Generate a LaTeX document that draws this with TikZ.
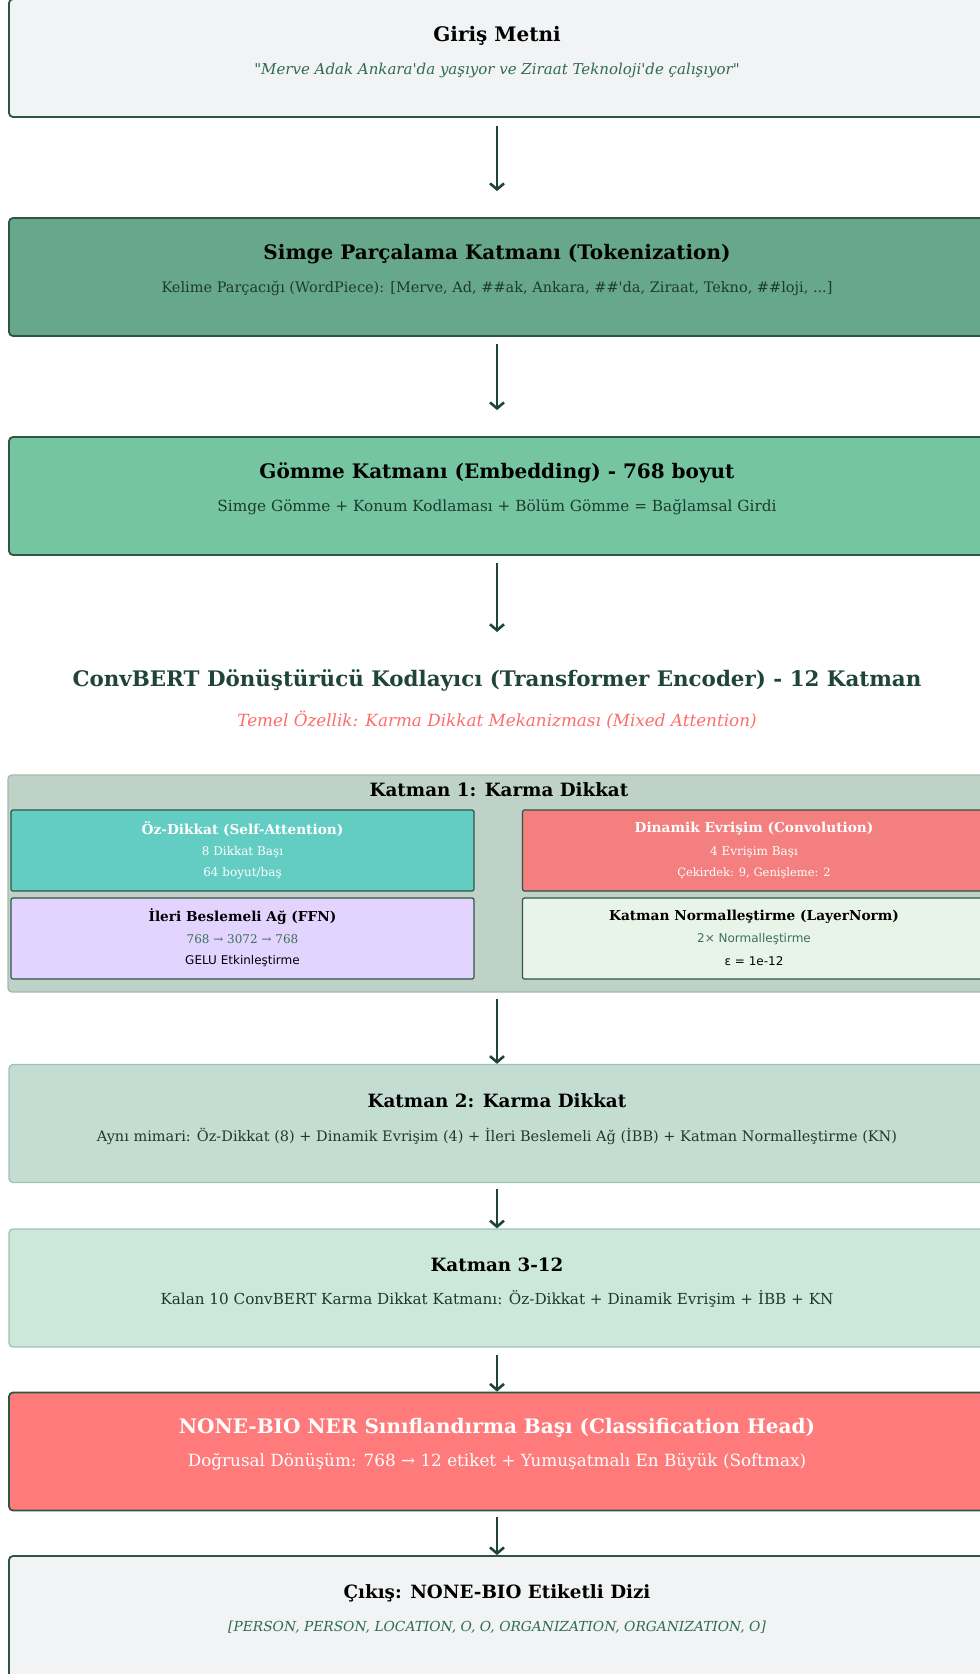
\documentclass[tikz,border=0pt]{standalone}
\usepackage{fontspec}
\setmainfont{DejaVu Serif}[Ligatures=TeXOff]
\newfontfamily\dsans{DejaVu Sans}
\usetikzlibrary{arrows.meta}

\definecolor{edge}{HTML}{2E5443}
\definecolor{arrowc}{HTML}{1E4535}
\definecolor{inbg}{HTML}{F1F3F4}
\definecolor{tokbg}{HTML}{66A889}
\definecolor{embbg}{HTML}{75C6A0}
\definecolor{kbg}{HTML}{BED2C8}
\definecolor{kedge}{HTML}{A3B8AD}
\definecolor{sabg}{HTML}{63CDC4}
\definecolor{dcbg}{HTML}{F47F7F}
\definecolor{ffnbg}{HTML}{E3D4FF}
\definecolor{lnbg}{HTML}{E9F4E9}
\definecolor{ktwobg}{HTML}{C4DDD3}
\definecolor{kthreebg}{HTML}{CBE8DA}
\definecolor{lightedge}{HTML}{A2C0B2}
\definecolor{headbg}{HTML}{FF7A7A}
\definecolor{subgreen}{HTML}{2E6B4F}
\definecolor{accent}{HTML}{FF6B6B}
\definecolor{dtext}{HTML}{1E3A30}
\definecolor{midgreen}{HTML}{3D6F5C}

\tikzset{
  layer/.style={rectangle, rounded corners=4pt, draw=edge, line width=1.8pt,
    minimum width=976pt, minimum height=118pt, inner sep=0pt},
  softlayer/.style={layer, draw=lightedge, line width=1.3pt},
  cell/.style={rectangle, rounded corners=2pt, draw=edge, line width=1.2pt,
    minimum width=463pt, minimum height=81pt, inner sep=0pt},
  ttl/.style={font=\fontsize{20}{23}\selectfont\bfseries, text=black, inner sep=0pt},
  smallttl/.style={ttl, font=\fontsize{18.3}{21}\selectfont\bfseries},
  sub/.style={font=\fontsize{15}{18}\selectfont, text=dtext, inner sep=0pt},
  celltitle/.style={font=\fontsize{13.7}{16}\selectfont\bfseries, inner sep=0pt},
  cellline/.style={font=\fontsize{12}{14}\selectfont, inner sep=0pt},
  sansline/.style={font=\fontsize{12}{14}\selectfont\dsans, inner sep=0pt},
  arr/.style={draw=arrowc, line width=2.6pt, -{Straight Barb[length=6pt,width=14pt]}}
}

\begin{document}
\begin{tikzpicture}[x=1pt,y=-1pt]
\useasboundingbox (0,0) rectangle (980,1674);
\clip (0,0) rectangle (980,1674);

% input text
\node[layer, fill=inbg] (inp) at (497,58) {};
\node[ttl] (inpT) at (497,36) {Giriş Metni};
\node[sub, text=subgreen, font=\fontsize{15}{18}\selectfont\itshape] (inpS) at (497,70)
  {"Merve Adak Ankara'da yaşıyor ve Ziraat Teknoloji'de çalışıyor"};

% tokenization
\node[layer, fill=tokbg] (tok) at (497,277) {};
\node[ttl] (tokT) at (497,254) {Simge Parçalama Katmanı (Tokenization)};
\node[sub, font=\fontsize{14.5}{17}\selectfont] (tokS) at (497,288)
  {Kelime Parçacığı (WordPiece): [Merve, Ad, \#\#ak, Ankara, \#\#'da, Ziraat, Tekno, \#\#loji, ...]};

% embedding
\node[layer, fill=embbg] (emb) at (497,496) {};
\node[ttl] (embT) at (497,473) {Gömme Katmanı (Embedding) - 768 boyut};
\node[sub, font=\fontsize{15.3}{18}\selectfont] (embS) at (497,507)
  {Simge Gömme + Konum Kodlaması + Bölüm Gömme = Bağlamsal Girdi};

% encoder heading
\node[ttl, text=arrowc, font=\fontsize{21.4}{25}\selectfont\bfseries] (enc) at (497,680)
  {ConvBERT Dönüştürücü Kodlayıcı (Transformer Encoder) - 12 Katman};
\node[sub, text=accent, font=\fontsize{16.8}{20}\selectfont\itshape] (encS) at (497,720)
  {Temel Özellik: Karma Dikkat Mekanizması (Mixed Attention)};

% layer 1 with its four parts
\node[rectangle, rounded corners=4pt, draw=kedge, line width=1.3pt, fill=kbg,
  minimum width=978pt, minimum height=217pt, inner sep=0pt] (kone) at (497,883.5) {};
\node[ttl, font=\fontsize{18.3}{21}\selectfont\bfseries] (koneT) at (499,790) {Katman 1: Karma Dikkat};

\node[cell, fill=sabg] (sa) at (242.5,850.5) {};
\node[celltitle, text=white] (saT) at (242.5,829) {Öz-Dikkat (Self-Attention)};
\node[cellline, text=white] (saA) at (242.5,852) {8 Dikkat Başı};
\node[cellline, text=white] (saB) at (242.5,873) {64 boyut/baş};

\node[cell, fill=dcbg] (dc) at (754,850.5) {};
\node[celltitle, text=white] (dcT) at (754,829) {Dinamik Evrişim (Convolution)};
\node[cellline, text=white] (dcA) at (754,852) {4 Evrişim Başı};
\node[cellline, text=white, font=\fontsize{11.5}{14}\selectfont] (dcB) at (754,873) {Çekirdek: 9, Genişleme: 2};

\node[cell, fill=ffnbg] (ffn) at (242.5,938.5) {};
\node[celltitle, text=black] (ffnT) at (242.5,917) {İleri Beslemeli Ağ (FFN)};
\node[cellline, text=midgreen] (ffnA) at (242.5,939) {768 → 3072 → 768};
\node[sansline, text=black] (ffnB) at (242.5,961) {GELU Etkinleştirme};

\node[cell, fill=lnbg] (ln) at (754,938.5) {};
\node[celltitle, text=black] (lnT) at (754,917) {Katman Normalleştirme (LayerNorm)};
\node[sansline, text=midgreen] (lnA) at (754,939) {2× Normalleştirme};
\node[sansline, text=black] (lnB) at (754,961) {ε = 1e-12};

% layer 2
\node[softlayer, fill=ktwobg] (ktwo) at (497,1123.5) {};
\node[smallttl] (ktwoT) at (497,1101) {Katman 2: Karma Dikkat};
\node[sub, font=\fontsize{14.5}{17}\selectfont] (ktwoS) at (497,1136)
  {Aynı mimari: Öz-Dikkat (8) + Dinamik Evrişim (4) + İleri Beslemeli Ağ (İBB) + Katman Normalleştirme (KN)};

% layers 3-12
\node[softlayer, fill=kthreebg] (kthree) at (497,1288) {};
\node[smallttl] (kthreeT) at (497,1265) {Katman 3-12};
\node[sub, font=\fontsize{15.2}{18}\selectfont] (kthreeS) at (497,1299)
  {Kalan 10 ConvBERT Karma Dikkat Katmanı: Öz-Dikkat + Dinamik Evrişim + İBB + KN};

% classification head
\node[layer, fill=headbg] (head) at (497,1451.5) {};
\node[ttl, text=white, font=\fontsize{20}{23}\selectfont\bfseries] (headT) at (497,1428)
  {NONE-BIO NER Sınıflandırma Başı (Classification Head)};
\node[sub, text=white, font=\fontsize{16.8}{20}\selectfont] (headS) at (497,1462)
  {Doğrusal Dönüşüm: 768 → 12 etiket + Yumuşatmalı En Büyük (Softmax)};

% output
\node[layer, fill=inbg, minimum height=124pt] (out) at (497,1618) {};
\node[smallttl] (outT) at (497,1593) {Çıkış: NONE-BIO Etiketli Dizi};
\node[sub, text=subgreen, font=\fontsize{13.8}{17}\selectfont\itshape] (outS) at (497,1627)
  {[PERSON, PERSON, LOCATION, O, O, ORGANIZATION, ORGANIZATION, O]};

% flow arrows
\draw[arr, shorten <=8pt, shorten >=26pt] (inp.south) -- (tok.north);
\draw[arr, shorten <=7pt, shorten >=26pt] (tok.south) -- (emb.north);
\draw[arr, shorten <=7pt, shorten >=37pt] (emb.south) -- (enc.north);
\draw[arr, shorten <=6pt] (kone.south) -- (ktwo.north);
\draw[arr, shorten <=6pt] (ktwo.south) -- (kthree.north);
\draw[arr, shorten <=7pt] (kthree.south) -- (head.north);
\draw[arr, shorten <=6pt] (head.south) -- (out.north);
\end{tikzpicture}
\end{document}
